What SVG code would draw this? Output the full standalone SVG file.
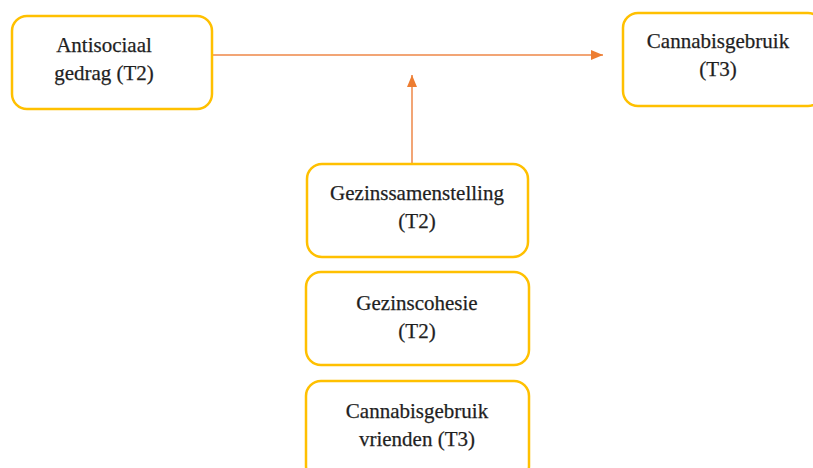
<svg xmlns="http://www.w3.org/2000/svg" width="813" height="468" viewBox="0 0 813 468">
<defs>
<style>
.box{fill:#fff;stroke:#FFC000;stroke-width:2.5}
.t{font-family:"Liberation Serif","Times New Roman",serif;font-size:21px;fill:#1f1f1f;stroke:#1f1f1f;stroke-width:0.25;text-anchor:middle}
.c{stroke:#F2A575;stroke-width:2;fill:none}
</style>
<marker id="ah" markerWidth="12" markerHeight="10" refX="12" refY="5" orient="auto" markerUnits="userSpaceOnUse">
<path d="M0,0 L12,5 L0,10 Z" fill="#ED7D31"/>
</marker>
</defs>
<rect width="813" height="468" fill="#fff"/>
<g id="connectors">
<line class="c" x1="213" y1="55" x2="603" y2="55" marker-end="url(#ah)"/>
<line class="c" x1="412" y1="164" x2="412" y2="75" marker-end="url(#ah)"/>
</g>
<g id="antisociaal">
<rect class="box" x="12" y="16" width="200" height="93" rx="15"/>
<text class="t" x="104" y="52">Antisociaal</text>
<text class="t" x="104" y="80">gedrag (T2)</text>
</g>
<g id="cannabis">
<rect class="box" x="623" y="13" width="200" height="93" rx="15"/>
<text class="t" x="718" y="48">Cannabisgebruik</text>
<text class="t" x="718" y="76">(T3)</text>
</g>
<g id="gezinssamenstelling">
<rect class="box" x="307" y="164" width="221" height="93" rx="15"/>
<text class="t" x="417" y="200">Gezinssamenstelling</text>
<text class="t" x="417" y="228">(T2)</text>
</g>
<g id="gezinscohesie">
<rect class="box" x="306" y="272" width="223" height="93" rx="15"/>
<text class="t" x="417" y="310">Gezinscohesie</text>
<text class="t" x="417" y="338">(T2)</text>
</g>
<g id="cannabis-vrienden">
<rect class="box" x="306" y="381" width="223" height="100" rx="15"/>
<text class="t" x="417" y="418">Cannabisgebruik</text>
<text class="t" x="417" y="446">vrienden (T3)</text>
</g>
</svg>
